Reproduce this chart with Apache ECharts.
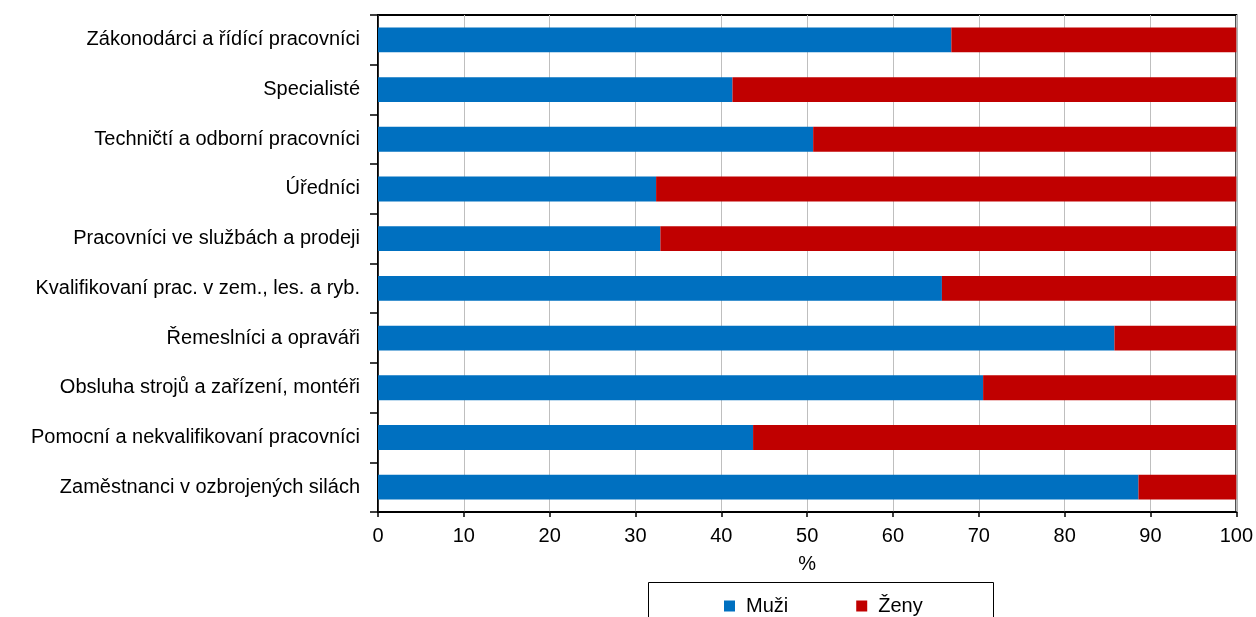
<!DOCTYPE html>
<html>
<head>
<meta charset="utf-8">
<script src="https://cdn.jsdelivr.net/npm/echarts@6/dist/echarts.min.js"></script>
<style>
html,body{margin:0;padding:0;background:#fff;}
#chart{width:1256px;height:617px;}
</style>
</head>
<body>
<div id="chart"></div>
<script>
const categories = [
  'Zákonodárci a řídící pracovníci',
  'Specialisté',
  'Techničtí a odborní pracovníci',
  'Úředníci',
  'Pracovníci ve službách a prodeji',
  'Kvalifikovaní prac. v zem., les. a ryb.',
  'Řemeslníci a opraváři',
  'Obsluha strojů a zařízení, montéři',
  'Pomocní a nekvalifikovaní pracovníci',
  'Zaměstnanci v ozbrojených silách'
];
const muzi = [66.8, 41.3, 50.7, 32.4, 32.9, 65.7, 85.8, 70.5, 43.7, 88.6];
const zeny = [33.2, 58.7, 49.3, 67.6, 67.1, 34.3, 14.2, 29.5, 56.3, 11.4];
const seriesNames = ['Muži', 'Ženy'];
const xTicks = [0, 10, 20, 30, 40, 50, 60, 70, 80, 90, 100];

const FONT = '"Liberation Sans", Arial, sans-serif';
const FS = 20;
const chart = echarts.init(document.getElementById('chart'), null, {renderer: 'canvas'});
chart.setOption({
  animation: false,
  backgroundColor: '#fff',
  grid: {left: 378, right: 19, top: 15, bottom: 105, show: true, borderColor: '#000', borderWidth: 2, containLabel: false},
  graphic: [{
    type: 'rect', left: 646, top: 580, z: 10,
    shape: {width: 345, height: 60},
    style: {fill: 'none', stroke: '#000', lineWidth: 1}
  }],
  legend: {
    left: 719, top: 591,
    itemWidth: 11, itemHeight: 11, itemGap: 68,
    icon: 'rect',
    textStyle: {fontFamily: FONT, fontSize: FS, color: '#000', padding: [0, 0, 0, 6]},
    data: seriesNames
  },
  xAxis: {
    type: 'value', min: xTicks[0], max: xTicks[xTicks.length - 1], interval: 10,
    name: '%', nameLocation: 'middle', nameGap: 42,
    nameTextStyle: {fontFamily: FONT, fontSize: FS, color: '#000'},
    axisLine: {show: true, lineStyle: {color: '#000', width: 1.5}},
    axisTick: {show: true, length: 5, lineStyle: {color: '#000', width: 1.5}},
    axisLabel: {fontFamily: FONT, fontSize: FS, color: '#000', margin: 14},
    splitLine: {show: true, lineStyle: {color: '#BFBFBF', width: 1}}
  },
  yAxis: {
    type: 'category', data: categories, inverse: true,
    axisLine: {show: true, lineStyle: {color: '#000', width: 1.5}},
    axisTick: {show: true, length: 8, lineStyle: {color: '#000', width: 1.5}},
    axisLabel: {fontFamily: FONT, fontSize: FS, color: '#000', margin: 18},
    splitLine: {show: false}
  },
  series: [
    {name: seriesNames[0], type: 'bar', stack: 'a', data: muzi, barWidth: '50%', itemStyle: {color: '#0070C0'}},
    {name: seriesNames[1], type: 'bar', stack: 'a', data: zeny, barWidth: '50%', itemStyle: {color: '#C00000'}}
  ]
});
</script>
</body>
</html>
